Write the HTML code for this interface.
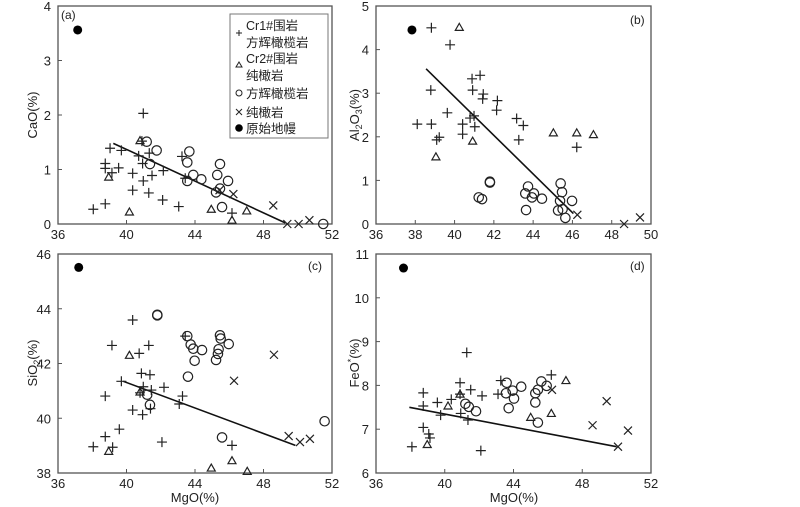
<!DOCTYPE html>
<html><head><meta charset="utf-8">
<style>
body{margin:0;background:#fff;width:800px;height:507px;overflow:hidden}
svg{display:block}
text{font-family:"Liberation Sans","Noto Sans CJK SC",sans-serif;fill:#222}
</style></head>
<body>
<svg id="chart" width="800" height="507" viewBox="0 0 800 507"></svg>
<script>
// ---- data arrays (MgO, oxide) ----
const aPlus=[[38.06,0.27],[38.76,0.37],[38.76,1.11],[38.76,1.02],[39.04,1.39],[39.15,0.94],[39.54,1.03],[39.7,1.35],[40.36,0.93],[40.36,0.62],[40.71,1.25],[40.94,1.11],[40.98,0.79],[40.98,2.03],[41.3,0.57],[41.33,1.3],[41.49,0.89],[42.11,0.44],[42.15,0.98],[43.05,0.32],[43.24,1.24],[43.43,0.84],[46.16,0.2],[40.9,1.52]];
const aTri=[[38.96,0.86],[40.17,0.22],[40.79,1.53],[44.95,0.27],[46.16,0.07],[47.02,0.24]];
const aCirc=[[41.18,1.51],[41.76,1.35],[41.37,1.1],[43.67,1.33],[43.55,1.13],[43.9,0.9],[43.55,0.79],[44.37,0.82],[45.46,1.1],[45.3,0.9],[45.93,0.79],[45.46,0.65],[45.23,0.58],[45.58,0.31],[51.49,0.0]];
const aX=[[46.24,0.55],[48.57,0.34],[49.39,0.0],[50.05,0.0],[50.68,0.07],[45.43,0.62]];
const aDot=[[37.15,3.56]];
const aLine=[[39.23,1.48],[49.27,0.02]];

const bPlus=[[38.82,4.5],[39.77,4.11],[38.79,3.07],[38.1,2.29],[38.82,2.29],[39.63,2.55],[40.41,2.29],[40.41,2.06],[39.09,1.93],[39.22,1.99],[40.89,3.33],[40.92,3.07],[41.3,3.41],[41.46,2.98],[41.43,2.87],[40.79,2.43],[40.99,2.48],[41.03,2.23],[42.18,2.83],[42.14,2.61],[43.16,2.42],[43.5,2.26],[43.27,1.93],[46.22,1.76]];
const bTri=[[40.24,4.51],[39.05,1.54],[40.92,1.9],[45.03,2.09],[46.22,2.09],[47.07,2.05]];
const bCirc=[[41.8,0.95],[41.8,0.97],[41.23,0.61],[41.4,0.57],[43.74,0.86],[43.6,0.7],[43.94,0.61],[44.04,0.7],[44.45,0.58],[43.64,0.32],[45.4,0.93],[45.47,0.73],[45.37,0.53],[45.98,0.53],[45.27,0.31],[45.5,0.34],[45.64,0.14]];
const bX=[[46.25,0.21],[48.63,0.0],[49.44,0.15]];
const bDot=[[37.83,4.45]];
const bLine=[[38.55,3.56],[46.05,0.24]];

const cPlus=[[38.06,38.96],[38.76,39.33],[38.76,40.81],[39.15,42.66],[39.19,38.94],[39.58,39.6],[39.7,41.35],[40.36,43.59],[40.36,40.3],[40.74,42.37],[40.94,40.13],[40.79,40.93],[40.87,41.64],[40.98,41.15],[41.3,42.66],[41.37,41.59],[41.4,40.35],[41.45,41.03],[42.19,41.13],[42.07,39.13],[43.27,40.81],[43.08,40.52],[43.43,43.0],[46.16,39.01]];
const cTri=[[40.17,42.3],[38.96,38.79],[40.79,40.96],[44.95,38.18],[46.16,38.45],[47.05,38.06]];
const cCirc=[[41.8,43.76],[41.8,43.78],[43.55,43.0],[43.75,42.69],[43.9,42.54],[44.41,42.49],[43.98,42.1],[43.59,41.52],[41.21,40.86],[41.37,40.49],[45.46,43.03],[45.5,42.91],[45.38,42.52],[45.34,42.35],[45.23,42.13],[45.97,42.71],[45.58,39.3],[51.57,39.89]];
const cX=[[48.61,42.32],[46.28,41.37],[49.47,39.35],[50.13,39.13],[50.71,39.25]];
const cDot=[[37.21,45.51]];
const cLine=[[39.81,41.35],[49.86,39.01]];

const dPlus=[[38.09,6.6],[38.75,7.83],[38.75,7.53],[38.75,7.04],[39.07,6.89],[39.14,6.8],[39.57,7.61],[39.76,7.32],[40.38,7.68],[40.89,8.06],[40.89,7.8],[40.93,7.36],[41.28,8.75],[41.35,7.21],[41.51,7.9],[42.17,7.76],[42.1,6.51],[43.1,7.8],[43.26,8.11],[46.2,8.24]];
const dTri=[[40.19,7.53],[40.89,7.8],[38.98,6.65],[45.0,7.27],[46.2,7.36],[47.05,8.11]];
const dCirc=[[41.2,7.58],[41.4,7.51],[41.82,7.41],[43.6,8.06],[43.56,7.82],[43.95,7.88],[44.03,7.7],[43.72,7.48],[44.45,7.97],[45.62,8.09],[45.93,7.99],[45.42,7.9],[45.27,7.82],[45.27,7.61],[45.42,7.15]];
const dX=[[46.24,7.9],[49.42,7.64],[48.6,7.09],[50.66,6.97],[50.08,6.6]];
const dDot=[[37.6,10.68]];
const dLine=[[37.94,7.5],[50.0,6.6]];

const aXTicks=[36,40,44,48,52], aYTicks=[0,1,2,3,4];
const bXTicks=[36,38,40,42,44,46,48,50], bYTicks=[0,1,2,3,4,5];
const cXTicks=[36,40,44,48,52], cYTicks=[38,40,42,44,46];
const dXTicks=[36,40,44,48,52], dYTicks=[6,7,8,9,10,11];

const NS="http://www.w3.org/2000/svg";
const svg=document.getElementById('chart');
function mk(tag,attrs,parent){const e=document.createElementNS(NS,tag);for(const k in attrs)e.setAttribute(k,attrs[k]);(parent||svg).appendChild(e);return e;}

function panel(id,box,xd,yd,xt,yt,sets,label,labelPos,ylab,xlab){
  const g=mk('g',{});
  
  
  const [L,T,R,B]=box;
  const sx=v=>L+(v-xd[0])/(xd[1]-xd[0])*(R-L);
  const sy=v=>B-(v-yd[0])/(yd[1]-yd[0])*(B-T);
  const fr=mk('rect',{x:L,y:T,width:R-L,height:B-T,fill:'none',stroke:'#555','stroke-width':1.3},g);
  
  
  xt.forEach(v=>{
    mk('line',{x1:sx(v),x2:sx(v),y1:B,y2:B-4,stroke:'#555'},g);
    const t=mk('text',{x:sx(v),y:B+15,'text-anchor':'middle','font-size':13},g);t.textContent=v;
    
    
  });
  yt.forEach(v=>{
    mk('line',{x1:L,x2:L+4,y1:sy(v),y2:sy(v),stroke:'#555'},g);
    const t=mk('text',{x:L-7,y:sy(v)+5,'text-anchor':'end','font-size':13},g);t.textContent=v;
    
    
  });
  const ln=mk('line',{x1:sx(sets.line[0][0]),y1:sy(sets.line[0][1]),x2:sx(sets.line[1][0]),y2:sy(sets.line[1][1]),stroke:'#111','stroke-width':1.6},g);
  
  
  const st={stroke:'#222','stroke-width':1.2,fill:'none'};
  sets.plus.forEach(p=>{const x=sx(p[0]),y=sy(p[1]);
    const e=mk('path',Object.assign({d:`M${x-5},${y}H${x+5}M${x},${y-5}V${y+5}`},st),g);
    
    });
  sets.tri.forEach(p=>{const x=sx(p[0]),y=sy(p[1]);
    const e=mk('path',Object.assign({d:`M${x},${y-4}L${x+4},${y+3}L${x-4},${y+3}Z`},st),g);
    
    });
  sets.circ.forEach(p=>{
    const e=mk('circle',Object.assign({cx:sx(p[0]),cy:sy(p[1]),r:4.7},st),g);
    
    });
  sets.x.forEach(p=>{const x=sx(p[0]),y=sy(p[1]);
    const e=mk('path',Object.assign({d:`M${x-4},${y-4}L${x+4},${y+4}M${x+4},${y-4}L${x-4},${y+4}`},st),g);
    
    });
  sets.dot.forEach(p=>{
    const e=mk('circle',{cx:sx(p[0]),cy:sy(p[1]),r:4.5,fill:'#000'},g);
    
    });
  const pl=mk('text',{x:labelPos[0],y:labelPos[1],'font-size':12},g);pl.textContent=label;
  
  
  const yl=mk('text',{x:ylab[0],y:ylab[1],'text-anchor':'middle','font-size':13,transform:`rotate(-90 ${ylab[0]} ${ylab[1]})`},g);
  yl.innerHTML=ylab[2];
  
  
  if(xlab){const xl=mk('text',{x:xlab[0],y:xlab[1],'text-anchor':'middle','font-size':13},g);xl.textContent='MgO(%)';
    
    }
}
panel('a',[58,6,332,224],[36,52],[0,4],aXTicks,aYTicks,{plus:aPlus,tri:aTri,circ:aCirc,x:aX,dot:aDot,line:aLine},'(a)',[61,19],[37,115,'CaO(%)'],null);
panel('b',[376,6,651,224],[36,50],[0,5],bXTicks,bYTicks,{plus:bPlus,tri:bTri,circ:bCirc,x:bX,dot:bDot,line:bLine},'(b)',[630,24],[359,115,'Al<tspan font-size="9" dy="3">2</tspan><tspan dy="-3">O</tspan><tspan font-size="9" dy="3">3</tspan><tspan dy="-3">(%)</tspan>'],null);
panel('c',[58,254,332,473],[36,52],[38,46],cXTicks,cYTicks,{plus:cPlus,tri:cTri,circ:cCirc,x:cX,dot:cDot,line:cLine},'(c)',[308,270],[37,363,'SiO<tspan font-size="9" dy="3">2</tspan><tspan dy="-3">(%)</tspan>'],[195,502]);
panel('d',[376,254,651,473],[36,52],[6,11],dXTicks,dYTicks,{plus:dPlus,tri:dTri,circ:dCirc,x:dX,dot:dDot,line:dLine},'(d)',[630,270],[359,363,'FeO<tspan font-size="9" dy="-5">*</tspan><tspan dy="5">(%)</tspan>'],[514,502]);

// legend
const lg=mk('g',{});


mk('rect',{x:230,y:14,width:98,height:124,fill:'#fff',stroke:'#777'},lg);
const items=[['Cr1#围岩',25],['方辉橄榄岩',42],['Cr2#围岩',58],['纯橄岩',75],['方辉橄榄岩',93],['纯橄岩',112],['原始地幔',128]];
items.forEach(it=>{const t=mk('text',{x:246,y:it[1]+5,'font-size':12.5},lg);t.textContent=it[0];
  
  });
const ls={stroke:'#222','stroke-width':1,fill:'none'};
mk('path',Object.assign({d:'M236,33H242M239,30V36'},ls),lg);
mk('path',Object.assign({d:'M239,62L242,67L236,67Z'},ls),lg);
mk('circle',Object.assign({cx:239,cy:93,r:3},ls),lg);
mk('path',Object.assign({d:'M236,109L242,115M242,109L236,115'},ls),lg);
mk('circle',{cx:239,cy:128,r:3.8,fill:'#000'},lg);
</script>
</body></html>
